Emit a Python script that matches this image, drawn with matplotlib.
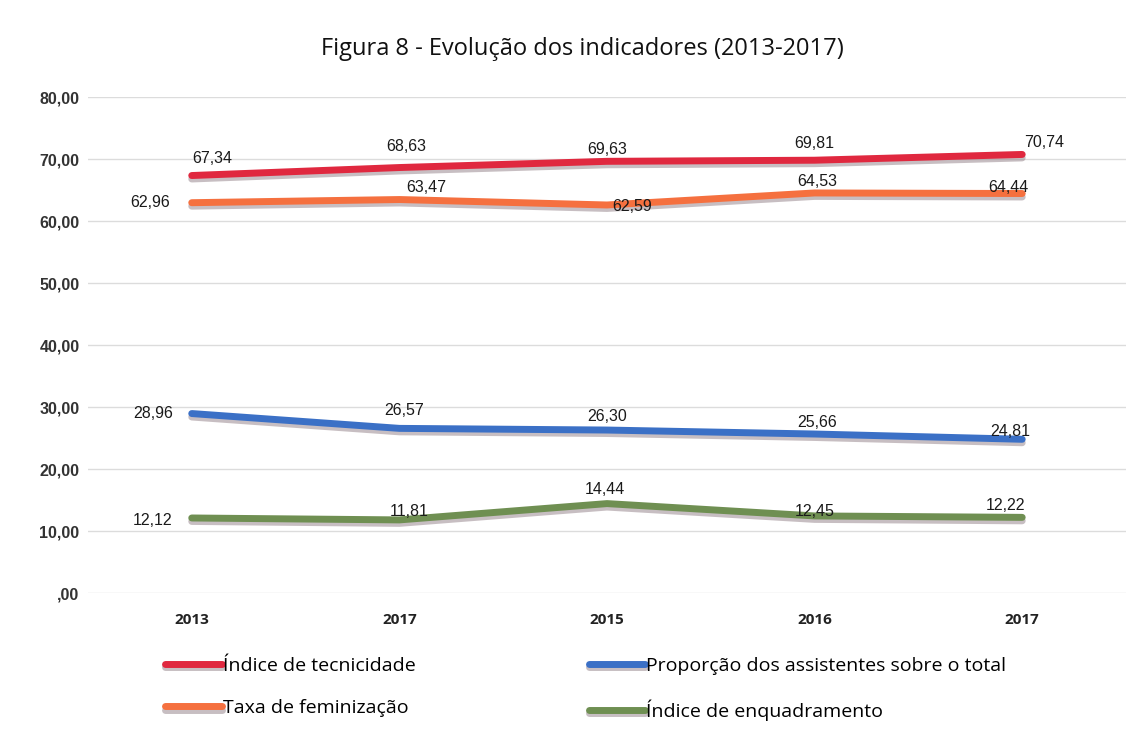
import matplotlib.pyplot as plt
import matplotlib.patheffects as pe
import numpy as np

# dados
anos = ['2013', '2017', '2015', '2016', '2017']
tecnicidade = [67.34, 68.63, 69.63, 69.81, 70.74]
feminizacao = [62.96, 63.47, 62.59, 64.53, 64.44]
assistentes = [28.96, 26.57, 26.30, 25.66, 24.81]
enquadramento = [12.12, 11.81, 14.44, 12.45, 12.22]
yticks = [0, 10, 20, 30, 40, 50, 60, 70, 80]

series = [
    ('Índice de tecnicidade', tecnicidade, '#e0283f',
     [(21, 17), (7, 21), (0, 12), (0, 17), (22, 12)]),
    ('Taxa de feminização', feminizacao, '#f5703f',
     [(-42, 0), (27, 12), (25, -2), (3, 11), (-14, 6)]),
    ('Proporção dos assistentes sobre o total', assistentes, '#3b70c6',
     [(-39, 0), (5, 18), (0, 14), (3, 12), (-12, 8)]),
    ('Índice de enquadramento', enquadramento, '#6f8f52',
     [(-39, -3), (10, 8), (-2, 14), (0, 4), (-17, 12)]),
]

def fmt(v):
    s = f'{v:.2f}'.replace('.', ',')
    return s[1:] if s.startswith('0') else s

fig = plt.figure(figsize=(11.42, 7.35), dpi=100)
ax = fig.add_axes([0.077, 0.193, 0.909, 0.675])

x = np.arange(len(anos))
shadow = [pe.SimpleLineShadow(offset=(0, -2.5), shadow_color='#9a8a90', alpha=0.55),
          pe.Normal()]
handles = []
for nome, vals, cor, offs in series:
    ln, = ax.plot(x, vals, color=cor, lw=5, solid_capstyle='round',
                  solid_joinstyle='round', label=nome, path_effects=shadow, zorder=3)
    handles.append(ln)
    for xi, v, (dx, dy) in zip(x, vals, offs):
        ax.annotate(fmt(v), (xi, v), xytext=(dx, dy), textcoords='offset pixels',
                    ha='center', va='center', fontsize=11.5,
                    family='Liberation Sans', color='#1a1a1a', zorder=4)

ax.set_xlim(-0.5, len(anos) - 0.5)
ax.set_ylim(0, 80)
ax.set_yticks(yticks)
ax.set_yticklabels([fmt(t) for t in yticks], family='Liberation Sans',
                   fontsize=11.5, fontweight='bold', color='#333333')
ax.set_xticks(x)
ax.set_xticklabels(anos, family='Open Sans', fontsize=11, fontweight='bold',
                   color='#222222')
ax.tick_params(axis='x', length=0, pad=14)
ax.tick_params(axis='y', length=0, pad=6)
ax.grid(axis='y', color='#dcdcdc', lw=1)
ax.set_axisbelow(True)
for s in ax.spines.values():
    s.set_visible(False)

fig.text(0.51, 0.933, 'Figura 8 - Evolução dos indicadores (2013-2017)',
         ha='center', va='center', family='Open Sans', fontsize=17, color='#111111')

fig.legend(handles=handles, loc='upper left', bbox_to_anchor=(0.138, 0.117),
           ncol=2, frameon=False, handlelength=2.9, handletextpad=0.05,
           columnspacing=8.9, labelspacing=1.25, borderaxespad=0,
           prop={'family': 'Open Sans', 'size': 14})

fig.savefig('out.png', dpi=100, facecolor='white')
